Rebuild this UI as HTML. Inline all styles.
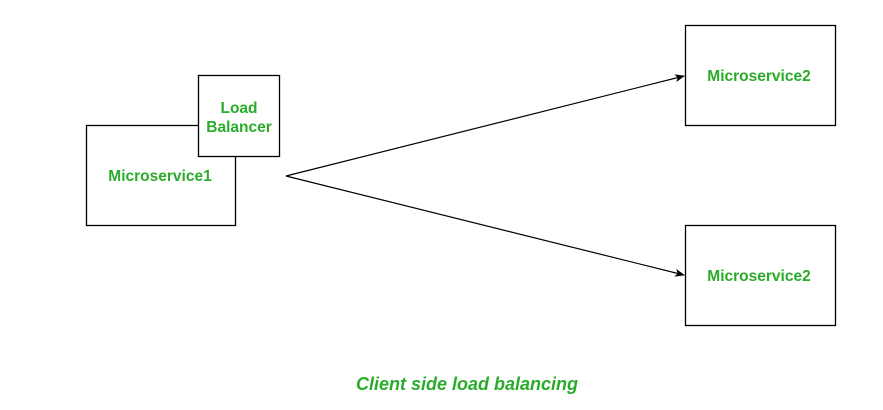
<!DOCTYPE html>
<html><head><meta charset="utf-8"><style>
html,body{margin:0;padding:0;background:#fff;}
</style></head><body>
<svg width="883" height="410" viewBox="0 0 883 410" xmlns="http://www.w3.org/2000/svg" style="display:block">
<defs><marker id="a" markerWidth="10" markerHeight="8" refX="9" refY="4" orient="auto" markerUnits="userSpaceOnUse"><path d="M0,0 L10,4 L0,8 L2.5,4 z" fill="#000"/></marker></defs>
<g fill="#fff" stroke="#000" stroke-width="1.3">
<rect x="86.5" y="125.5" width="149" height="100"/>
<rect x="198.5" y="75.5" width="81" height="81"/>
<rect x="685.5" y="25.5" width="150" height="100"/>
<rect x="685.5" y="225.5" width="150" height="100"/>
</g>
<g stroke="#000" stroke-width="1.2" fill="none">
<line x1="286" y1="176" x2="684" y2="76" marker-end="url(#a)"/>
<line x1="286" y1="176" x2="684" y2="275" marker-end="url(#a)"/>
</g>
<g font-family="Liberation Sans, sans-serif" font-weight="bold" font-size="15.5" fill="#2aab2a" text-anchor="middle">
<text x="160" y="181">Microservice1</text>
<text x="239" y="113">Load</text>
<text x="239" y="132">Balancer</text>
<text x="759" y="81">Microservice2</text>
<text x="759" y="281">Microservice2</text>
<text x="467" y="390" font-style="italic" font-size="18">Client side load balancing</text>
</g>
</svg>
</body></html>
